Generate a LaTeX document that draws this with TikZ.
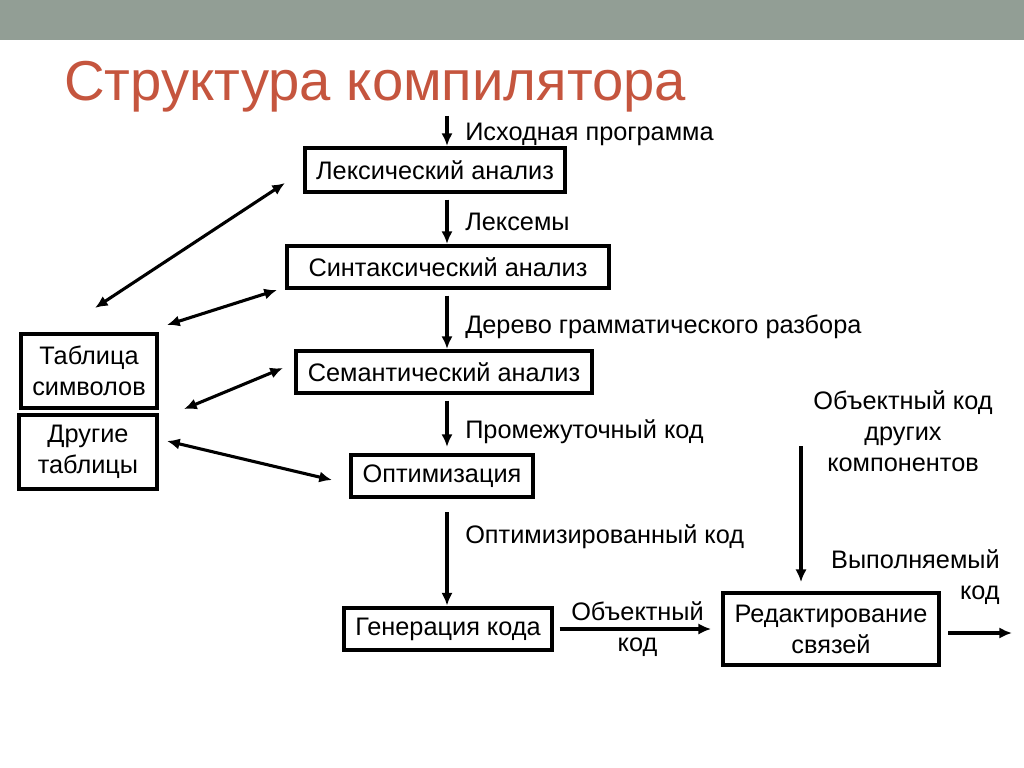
\documentclass[tikz,border=0pt]{standalone}
\usepackage{fontspec}
\setmainfont{Liberation Sans}
\usetikzlibrary{arrows.meta,positioning}
\definecolor{SlideBar}{HTML}{929E95}
\definecolor{SlideTitle}{HTML}{C5553E}

\begin{document}
\begin{tikzpicture}[x=0.025cm, y=-0.025cm,
  stage/.style={draw, line width=2.9pt, inner sep=0pt, align=center, font=\fontsize{18}{22}\selectfont},
  lbl/.style={inner sep=0pt, font=\fontsize{18}{22}\selectfont},
  flow/.style={line width=2.2pt, -{Latex[length=9pt,width=8pt]}},
  duplex/.style={line width=2.2pt, {Latex[length=9pt,width=8pt]}-{Latex[length=9pt,width=8pt]}}]
\useasboundingbox (0,0) rectangle (1024,768);

% Slide header
\fill[SlideBar] (0,0) rectangle (1024,40);
\node[anchor=west, inner sep=0pt, text=SlideTitle, font=\fontsize{40}{46}\selectfont] (title) at (64,87) {Структура компилятора};

% Compiler phases
\node[stage, minimum width=6.5cm, minimum height=1.1cm] (lex) at (435,170) {Лексический анализ};
\node[stage, minimum width=8.05cm, minimum height=1.05cm] (syn) at (448,267) {Синтаксический анализ};
\node[stage, minimum width=7.4cm, minimum height=1.05cm] (sem) at (444,372) {Семантический анализ};
\node[stage, minimum width=4.55cm, minimum height=1.07cm] (opt) at (442,476) {Оптимизация};
\node[stage, minimum width=5.2cm, minimum height=1.07cm] (gen) at (448,629) {Генерация кода};
\node[stage, minimum width=5.4cm, minimum height=1.82cm] (link) at (831,629) {Редактирование\\связей};

% Tables
\node[stage, minimum width=3.4cm, minimum height=1.85cm] (tab) at (89,371) {Таблица\\символов};
\node[stage, minimum width=3.45cm, minimum height=1.85cm] (oth) at (88,452) {Другие\\таблицы};

% Main flow
\coordinate (spine) at (447,0);
\coordinate (src) at (447,116);
\draw[flow] (src) -- (lex.north -| spine);
\node[lbl, anchor=west] (srclbl) at (465,134) {Исходная программа};
\draw[flow, shorten <=4pt] (lex.south -| spine) -- (syn.north -| spine);
\node[lbl, anchor=west] (lexlbl) at (465,222) {Лексемы};
\draw[flow, shorten <=4pt] (syn.south -| spine) -- (sem.north -| spine);
\node[lbl, anchor=west] (synlbl) at (465,327) {Дерево грамматического разбора};
\draw[flow, shorten <=4pt, shorten >=4pt] (sem.south -| spine) -- (opt.north -| spine);
\node[lbl, anchor=west] (semlbl) at (465,432) {Промежуточный код};
\draw[flow, shorten <=9pt] (opt.south -| spine) -- (gen.north -| spine);
\node[lbl, anchor=west] (optlbl) at (465,537) {Оптимизированный код};
\draw[flow, shorten <=4pt, shorten >=7pt] (gen.east) -- (link.west)
  node[lbl, midway, align=center] (objlbl) {Объектный\\код};

% Linking inputs and output
\coordinate (ext) at (801,446);
\draw[flow, shorten >=6pt] (ext) -- (link.north -| ext);
\node[lbl, align=center] (extlbl) at (903,431) {Объектный код\\других\\компонентов};
\coordinate (out) at (1012,633);
\draw[flow, shorten <=5pt] (link.east |- out) -- (out);
\node[lbl, align=right, anchor=east] (outlbl) at (1000,577) {Выполняемый\\код};

% Table access
\draw[duplex] ([shift={(6,-24)}]tab.north) -- ([shift={(-18,13)}]lex.west);
\draw[duplex] ([shift={(8,-7)}]tab.north east) -- ([shift={(-8,0)}]syn.south west);
\draw[duplex] ([shift={(25,-1)}]tab.south east) -- ([shift={(-11,-4)}]sem.west);
\draw[duplex] ([shift={(8,-11)}]oth.east) -- ([shift={(-17,4)}]opt.west);
\end{tikzpicture}
\end{document}
